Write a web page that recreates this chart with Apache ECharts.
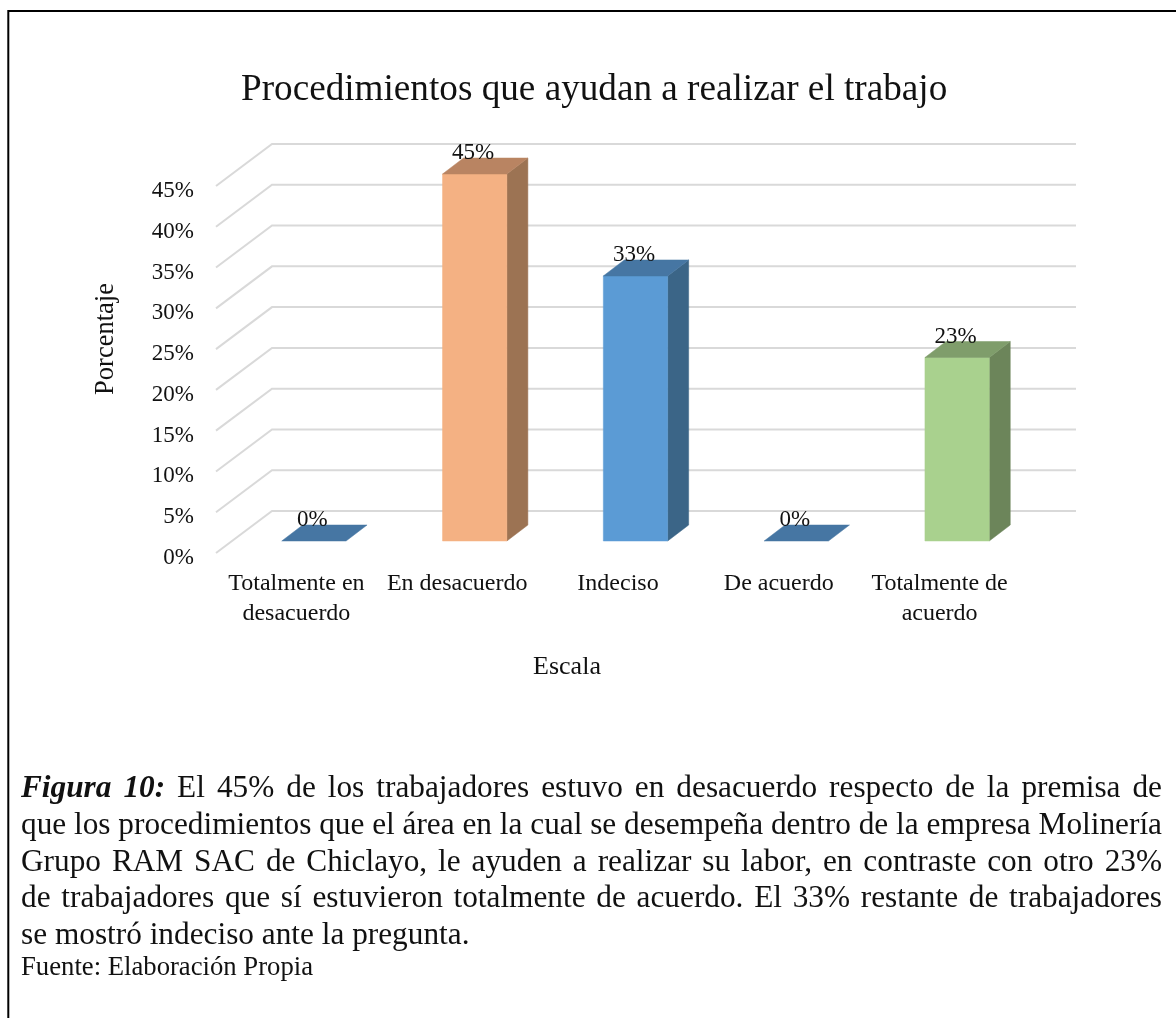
<!DOCTYPE html>
<html><head><meta charset="utf-8">
<style>html,body{margin:0;padding:0;background:#fff}#c{width:1176px;height:1018px}</style>
<script src="https://cdn.jsdelivr.net/npm/echarts@6/dist/echarts.min.js"></script>
</head><body><div id="c"></div>
<script>
const categories = ['Totalmente en\ndesacuerdo','En desacuerdo','Indeciso','De acuerdo','Totalmente de\nacuerdo'];
const values = [0, 45, 32.5, 0, 22.5];
const yTicks = [0,5,10,15,20,25,30,35,40,45];
const faceColors = ['#5B9BD5','#F4B183','#5B9BD5','#5B9BD5','#A9D18E'];
const sideColors = ['#3B6587','#9C7353','#3B6587','#3B6587','#6C855A'];
const topColors  = ['#4676A3','#B98462','#4676A3','#4676A3','#7F9D6B'];
const titleText = 'Procedimientos que ayudan a realizar el trabajo';
const captionLines = [
 'Figura 10: El 45% de los trabajadores estuvo en desacuerdo respecto de la premisa de',
 'que los procedimientos que el área en la cual se desempeña dentro de la empresa Molinería',
 'Grupo RAM SAC de Chiclayo, le ayuden a realizar su labor, en contraste con otro 23%',
 'de trabajadores que sí estuvieron totalmente de acuerdo. El 33% restante de trabajadores',
 'se mostró indeciso ante la pregunta.'
];
const sourceText = 'Fuente: Elaboración Propia';

const SERIF = '"Liberation Serif","Times New Roman",serif';
const INK = '#111111';
const WALL_DX = 56, WALL_DY = -42;      // depth of the chart floor
const BAR_DX = 17.5, BAR_DY = -12;      // front of a bar within that depth
const DEPTH_DX = 21, DEPTH_DY = -16;    // depth of a bar
const chart = echarts.init(document.getElementById('c'), null, {renderer:'canvas'});

// justified caption as graphic text elements
const ctx = document.createElement('canvas').getContext('2d');
function captionGraphics(){
  const out = [];
  const L = 21, R = 1162, SIZE = 31.3, LINE0 = 789, STEP = 36.7;
  captionLines.forEach((line, li) => {
    const words = line.split(' ').map((w, wi) => {
      const strong = li === 0 && wi < 2;
      const font = (strong ? 'italic bold ' : '') + SIZE + 'px ' + SERIF;
      ctx.font = font;
      return {w, font, width: ctx.measureText(w).width};
    });
    const total = words.reduce((a, b) => a + b.width, 0);
    ctx.font = SIZE + 'px ' + SERIF;
    const gap = li < captionLines.length - 1 ? (R - L - total) / (words.length - 1) : ctx.measureText(' ').width;
    let x = L;
    words.forEach(o => {
      out.push({type:'text', x, y: LINE0 + li * STEP, style:{text:o.w, font:o.font, fill:INK, textAlign:'left', textVerticalAlign:'middle'}});
      x += o.width + gap;
    });
  });
  out.push({type:'text', x:L, y:968, style:{text:sourceText, font:'26.7px '+SERIF, fill:INK, textAlign:'left', textVerticalAlign:'middle'}});
  return out;
}

function renderWall(params, api){
  const cs = params.coordSys;
  const p = api.coord([0, api.value(1)]);
  return {type:'polyline', silent:true, shape:{points:[
      [cs.x, p[1]], [cs.x + WALL_DX, p[1] + WALL_DY], [cs.x + cs.width + WALL_DX, p[1] + WALL_DY]]},
    style:{stroke:'#D9D9D9', lineWidth:2, fill:null}};
}

function renderBar(params, api){
  const i = api.value(0), v = api.value(1);
  const base = api.coord([i, 0]), head = api.coord([i, v]);
  const w = api.size([1, 0])[0] * 0.4;
  const x0 = base[0] - w/2 + BAR_DX, x1 = x0 + w;
  const yb = base[1] + BAR_DY, yt = head[1] + BAR_DY;
  const poly = (pts, fill) => ({type:'polygon', shape:{points:pts}, style:{fill, stroke:fill, lineWidth:0.5}});
  const kids = [];
  if (v > 0) {
    kids.push(poly([[x1,yb],[x1+DEPTH_DX,yb+DEPTH_DY],[x1+DEPTH_DX,yt+DEPTH_DY],[x1,yt]], sideColors[i]));
    kids.push(poly([[x0,yb],[x1,yb],[x1,yt],[x0,yt]], faceColors[i]));
  }
  kids.push(poly([[x0,yt],[x1,yt],[x1+DEPTH_DX,yt+DEPTH_DY],[x0+DEPTH_DX,yt+DEPTH_DY]], topColors[i]));
  kids.push({type:'text', z2:10, x:(x0+x1)/2 - 1.5, y:yt - 21,
    style:{text:Math.round(v)+'%', font:'23px '+SERIF, fill:INK, textAlign:'center', textVerticalAlign:'middle'}});
  return {type:'group', children:kids};
}

chart.setOption({
  animation:false,
  backgroundColor:'#fff',
  title:{text:titleText, left:236, top:67, textStyle:{fontFamily:SERIF, fontSize:37.2, fontWeight:'normal', color:INK}},
  grid:{left:216, right:156, top:186, bottom:465, containLabel:false},
  xAxis:{type:'category', data:categories, name:'Escala', nameLocation:'middle', nameGap:101,
    nameTextStyle:{fontFamily:SERIF, fontSize:26, color:INK, padding:[0,102,0,0]},
    axisLine:{show:false}, axisTick:{show:false}, splitLine:{show:false},
    axisLabel:{interval:0, margin:16, fontFamily:SERIF, fontSize:24, lineHeight:29.5, color:INK}},
  yAxis:{type:'value', min:0, max:45, interval:5, name:'Porcentaje', nameLocation:'middle', nameRotate:90, nameGap:96,
    nameTextStyle:{fontFamily:SERIF, fontSize:26.5, color:INK, padding:[0,0,0,61]},
    axisLine:{show:false}, axisTick:{show:false}, splitLine:{show:false},
    axisLabel:{margin:22, fontFamily:SERIF, fontSize:23, color:INK, verticalAlign:'top', lineHeight:10, formatter:'{value}%'}},
  graphic:[{type:'polyline', silent:true, shape:{points:[[8.3,1018],[8.3,11],[1176,11]]}, style:{stroke:'#000', lineWidth:2, fill:null}}].concat(captionGraphics()),
  series:[
    {type:'custom', name:'Cuadrícula', silent:true, z:1, renderItem:renderWall, encode:{x:0,y:1}, data:yTicks.map(t=>[0,t])},
    {type:'custom', name:'Porcentaje', z:2, renderItem:renderBar, encode:{x:0,y:1}, data:values.map((v,i)=>[i,v])}
  ]
});
</script></body></html>
